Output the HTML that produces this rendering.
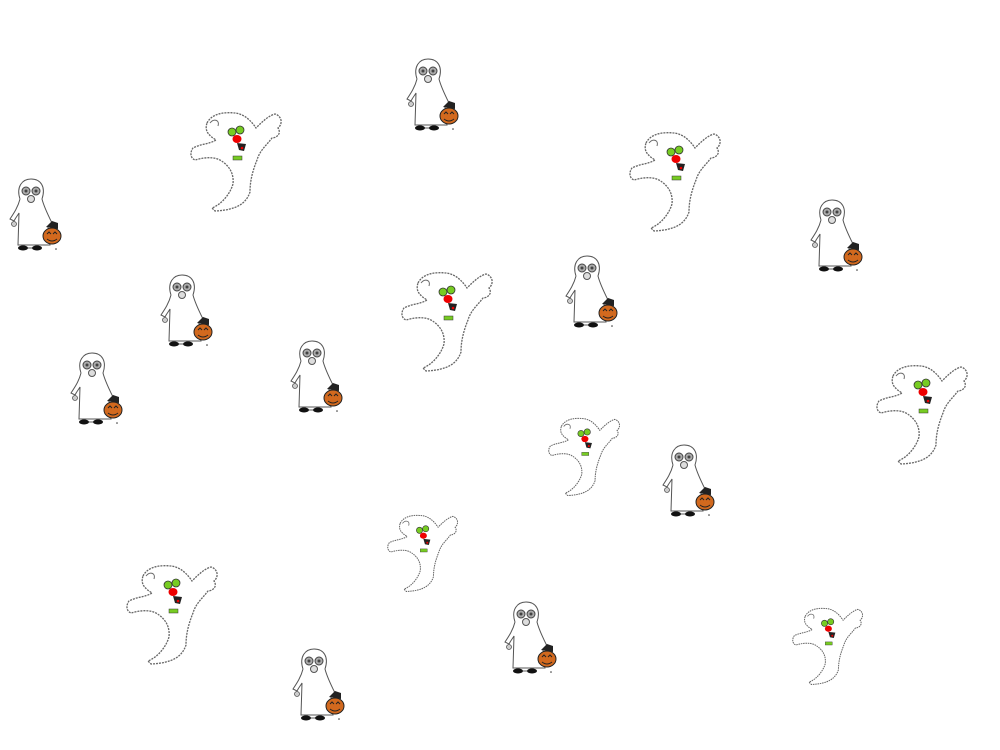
<!DOCTYPE html>
<html><head><style>html,body{margin:0;padding:0;background:#fff;}svg{display:block}</style></head>
<body>
<svg width="1000" height="750" viewBox="0 0 1000 750" xmlns="http://www.w3.org/2000/svg">
<defs>
<symbol id="kid" viewBox="0 0 56 75">
<path d="M14,22 C10,10 16,2 25,2 C35,2 40,10 36,22 C38,30 42,38 46,46 L48,50 M14,22 C12,30 8,36 4,42 L8,44 C10,40 12,38 13,36 L12,68 L44,68 L42,50" fill="#fff" stroke="#555" stroke-width="1"/>
<circle cx="20" cy="14" r="4" fill="#aaa" stroke="#444" stroke-width="1"/>
<circle cx="30" cy="14" r="4" fill="#aaa" stroke="#444" stroke-width="1"/>
<circle cx="20" cy="14" r="1.5" fill="#444"/><circle cx="30" cy="14" r="1.5" fill="#444"/>
<circle cx="25" cy="22" r="3.5" fill="#ddd" stroke="#555" stroke-width="1"/>
<circle cx="8" cy="47" r="2.5" fill="#ccc" stroke="#555" stroke-width="0.8"/>
<path d="M40,50 L46,44 L52,46 L52,52" fill="#222"/>
<ellipse cx="46" cy="59" rx="9" ry="8" fill="#d2691e" stroke="#222" stroke-width="1"/>
<path d="M41,57 l2,-2 l2,2 M47,57 l2,-2 l2,2 M41,62 q5,4 10,0" stroke="#222" stroke-width="1" fill="none"/>
<ellipse cx="17" cy="71" rx="5" ry="2.5" fill="#111"/>
<ellipse cx="31" cy="71" rx="5" ry="2.5" fill="#111"/>
<line x1="22" y1="71" x2="26" y2="71" stroke="#333" stroke-width="0.8"/>
<circle cx="50" cy="72" r="0.8" fill="#333"/>
</symbol>
<symbol id="fly" viewBox="0 0 93 104">
<path d="M17,15 C22,5 35,4 45,5 C55,6 62,14 66,20 C72,14 78,8 85,6 C92,8 93,16 88,20 C92,26 86,30 82,30 C76,38 70,42 67,52 C63,62 60,72 60,84 C56,96 46,102 25,103 L22,100 C32,96 40,86 43,76 C44,66 40,58 30,52 C22,48 12,50 5,52 C0,50 0,44 3,40 C10,36 20,36 26,32 C20,28 14,24 17,15 Z" fill="#fff" stroke="#666" stroke-width="1.3" stroke-dasharray="2 1"/>
<path d="M20,15 C24,10 30,12 28,18" fill="none" stroke="#666" stroke-width="1"/>
<circle cx="42" cy="24" r="4" fill="#7c2" stroke="#333" stroke-width="0.8"/>
<circle cx="50" cy="22" r="4" fill="#7c2" stroke="#333" stroke-width="0.8"/>
<ellipse cx="47" cy="31" rx="4.5" ry="4" fill="#e00"/>
<path d="M47,35 L56,36 L54,43 L49,42 Z" fill="#222"/>
<circle cx="52" cy="40" r="1.3" fill="#e00"/>
<rect x="43" y="48" width="9" height="4" fill="#7c2" stroke="#333" stroke-width="0.5"/>
</symbol>
</defs>
<use href="#kid" x="403" y="57" width="56" height="75"/>
<use href="#kid" x="6" y="177" width="56" height="75"/>
<use href="#kid" x="157" y="273" width="56" height="75"/>
<use href="#kid" x="67" y="351" width="56" height="75"/>
<use href="#kid" x="287" y="339" width="56" height="75"/>
<use href="#kid" x="562" y="254" width="56" height="75"/>
<use href="#kid" x="807" y="198" width="56" height="75"/>
<use href="#kid" x="659" y="443" width="56" height="75"/>
<use href="#kid" x="501" y="600" width="56" height="75"/>
<use href="#kid" x="289" y="647" width="56" height="75"/>
<use href="#fly" x="190" y="108" width="93" height="104"/>
<use href="#fly" x="629" y="128" width="93" height="104"/>
<use href="#fly" x="401" y="268" width="93" height="104"/>
<use href="#fly" x="876" y="361" width="93" height="104"/>
<use href="#fly" x="548" y="413" width="73" height="85"/>
<use href="#fly" x="387" y="510" width="72" height="84"/>
<use href="#fly" x="126" y="561" width="93" height="104"/>
<use href="#fly" x="792" y="602" width="72" height="86"/>
</svg>
</body></html>
